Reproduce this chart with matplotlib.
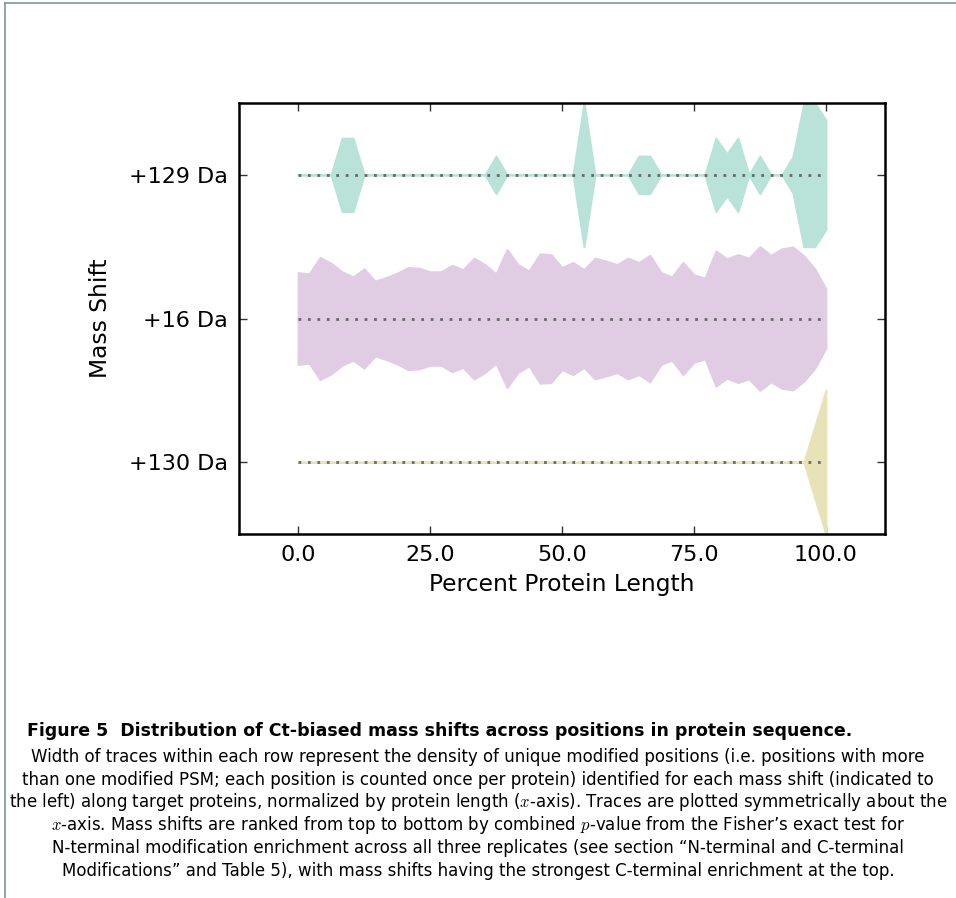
import numpy as np
import matplotlib
matplotlib.use("Agg")
import matplotlib.pyplot as plt
from matplotlib.lines import Line2D

plt.rcParams["mathtext.fontset"] = "cm"

# ---------------- data ----------------
mass_shifts = ["+129 Da", "+16 Da", "+130 Da"]
x_ticks = [0.0, 25.0, 50.0, 75.0, 100.0]
positions = np.linspace(0, 100, 49)  # percent protein length grid

density_129 = [0, 0, 0, 0, 0.51, 0.51, 0, 0, 0, 0,
               0, 0, 0, 0, 0, 0, 0, 0, 0.26, 0,
               0, 0, 0, 0, 0, 0, 1.0, 0, 0, 0,
               0, 0.26, 0.26, 0, 0, 0, 0, 0, 0.51, 0.29,
               0.51, 0, 0.26, 0, 0, 0.25, 1.0, 1.0, 0.76]
density_16 = [0.64, 0.62, 0.85, 0.77, 0.65, 0.58, 0.69, 0.52, 0.57, 0.63,
              0.71, 0.70, 0.65, 0.65, 0.74, 0.68, 0.84, 0.75, 0.62, 0.96,
              0.75, 0.66, 0.90, 0.89, 0.71, 0.78, 0.68, 0.84, 0.80, 0.75,
              0.84, 0.78, 0.88, 0.64, 0.58, 0.78, 0.61, 0.56, 0.94, 0.83,
              0.89, 0.84, 1.00, 0.88, 0.97, 0.995, 0.87, 0.69, 0.41]
density_130 = [0] * 46 + [0, 0.5, 1.0]

densities = [density_129, density_16, density_130]
colors = ["#b9e3d8", "#e0cde4", "#e8e3b7"]

caption_title = "Figure 5  Distribution of Ct-biased mass shifts across positions in protein sequence."
caption_lines = [
    "Width of traces within each row represent the density of unique modified positions (i.e. positions with more",
    "than one modified PSM; each position is counted once per protein) identified for each mass shift (indicated to",
    "the left) along target proteins, normalized by protein length ($x$-axis). Traces are plotted symmetrically about the",
    "$x$-axis. Mass shifts are ranked from top to bottom by combined $p$-value from the Fisher\u2019s exact test for",
    "N-terminal modification enrichment across all three replicates (see section \u201cN-terminal and C-terminal",
    "Modifications\u201d and Table 5), with mass shifts having the strongest C-terminal enrichment at the top.",
]

# ---------------- figure ----------------
fig = plt.figure(figsize=(9.56, 8.98), dpi=100)
ax = fig.add_axes([0.25, 0.4053, 0.6757, 0.48])

for i, (dens, col) in enumerate(zip(densities, colors)):
    d = np.asarray(dens) * 0.5
    ax.fill_between(positions, i - d, i + d, facecolor=col, edgecolor=col,
                    linewidth=1.5, zorder=2)
    ax.plot([positions[0], positions[-1]], [i, i], color="0.3", alpha=0.8,
            linewidth=2, dashes=(1, 2.4), zorder=3)

ax.set_xlim(-11.2, 111.2)
ax.set_ylim(2.5, -0.5)
ax.set_xticks(x_ticks)
ax.set_xticklabels([f"{v:.1f}" for v in x_ticks])
ax.set_yticks(range(len(mass_shifts)))
ax.set_yticklabels(mass_shifts)
ax.tick_params(direction="in", length=6, width=1, top=True, right=True,
               labelsize=16, pad=8, color="0.2")
for s in ax.spines.values():
    s.set_linewidth(1.8)
ax.set_xlabel("Percent Protein Length", fontsize=16.8, labelpad=6)
ax.set_ylabel("Mass Shift", fontsize=16.8, labelpad=12)

# page border lines
fig.add_artist(Line2D([5 / 956, 1.0], [1 - 3 / 898, 1 - 3 / 898],
                      color="#7f93aa", linewidth=1.2))
fig.add_artist(Line2D([5 / 956, 5 / 956], [0, 1 - 3 / 898],
                      color="#7f93aa", linewidth=1.2))

cap_font = ["DejaVu Sans"]
fig.text(27 / 956, 1 - 731 / 898, caption_title, fontsize=12.5,
         fontweight="bold", family=cap_font, va="center", ha="left")
for k, line in enumerate(caption_lines):
    fig.text(478 / 956, 1 - (757 + 22.7 * k) / 898, line, fontsize=12,
             family=cap_font, va="center", ha="center")

fig.savefig("out.png", dpi=100)
